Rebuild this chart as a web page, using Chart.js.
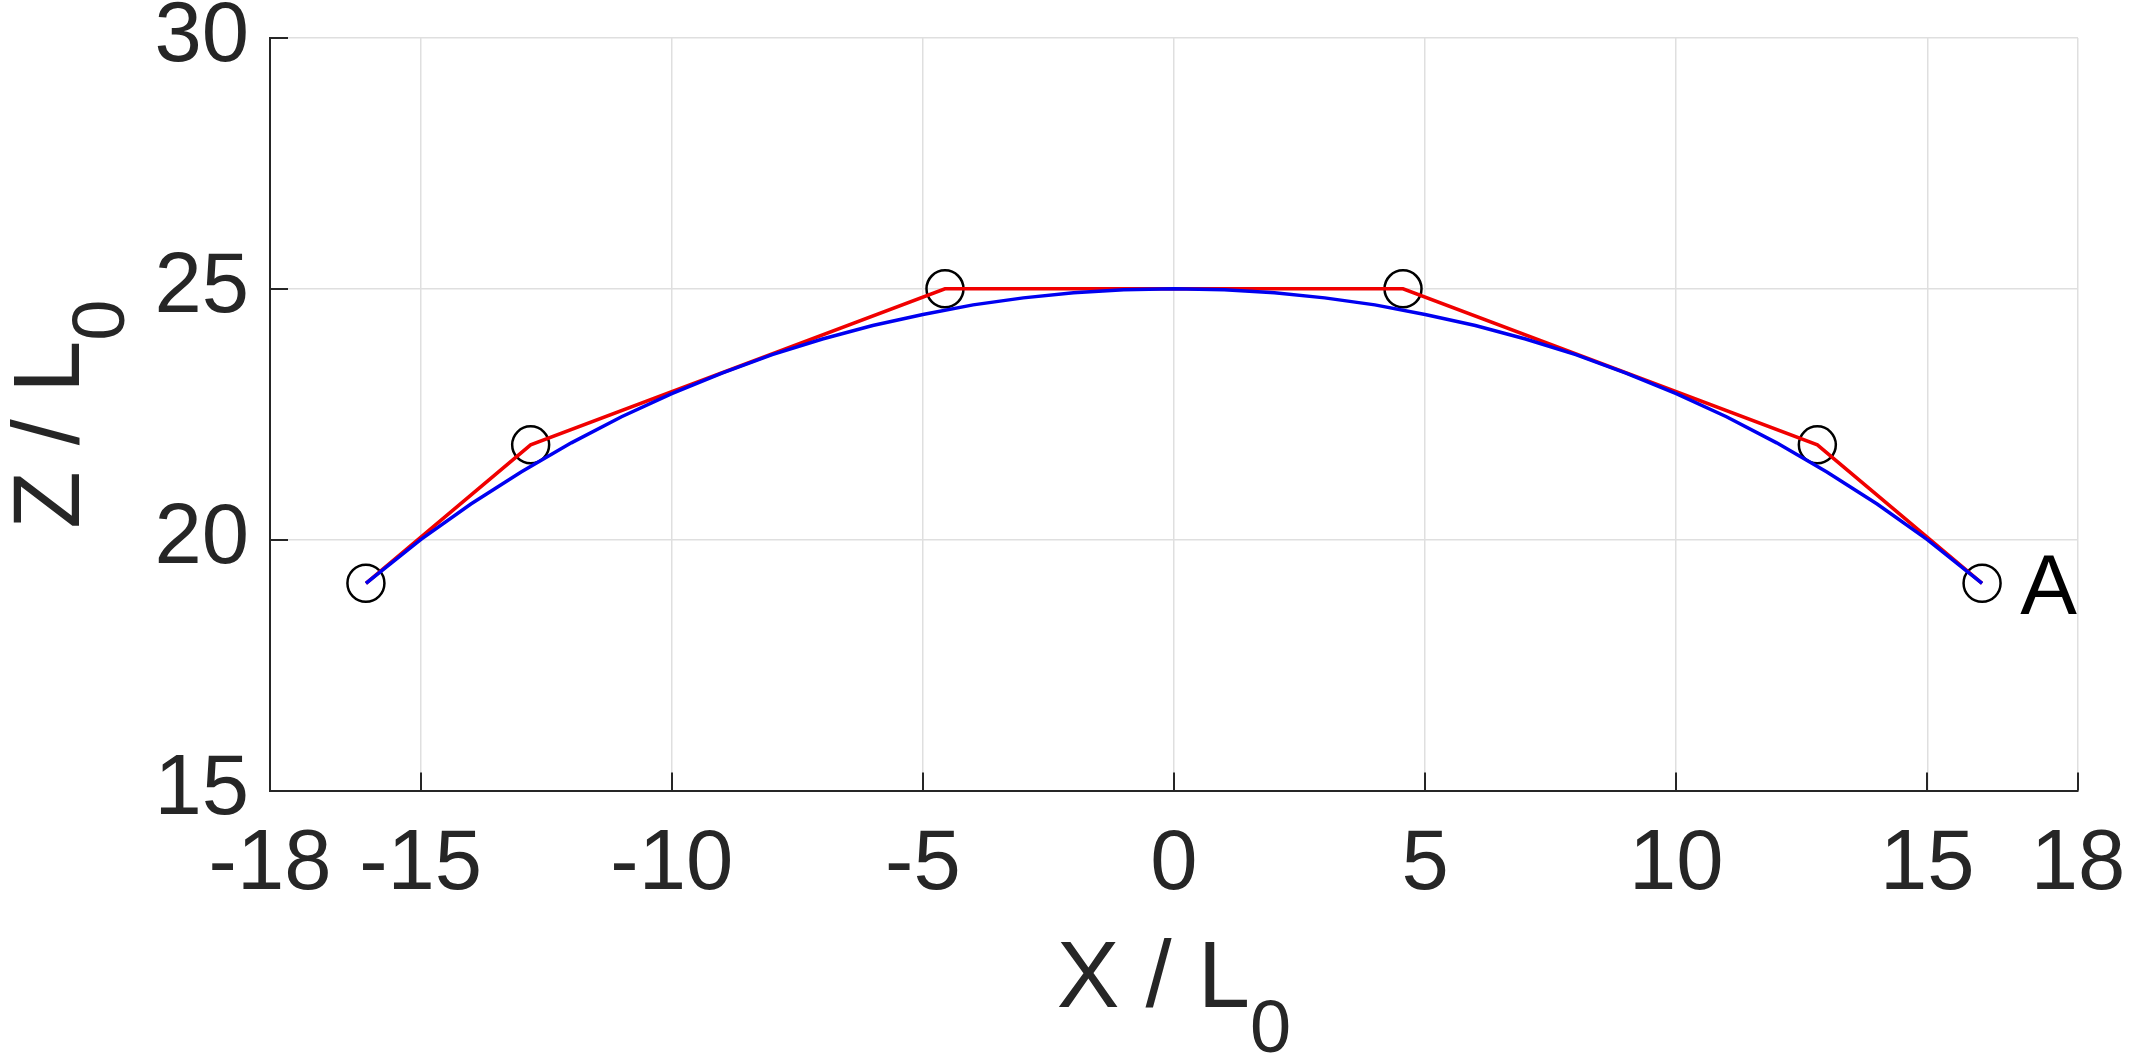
<!DOCTYPE html>
<html>
<head>
<meta charset="utf-8">
<script src="https://cdn.jsdelivr.net/npm/chart.js@4/dist/chart.umd.min.js"></script>
<style>
  html, body { margin: 0; padding: 0; background: #fff; }
  canvas { display: block; }
</style>
</head>
<body>
<canvas id="c" width="2137" height="1063"></canvas>
<script>
// ---- data ----
const xTicks = [-18, -15, -10, -5, 0, 5, 10, 15, 18];
const zTicks = [15, 20, 25, 30];

// node positions (black circles, red polyline)
const nodeX = [-16.09, -12.81, -4.56, 4.56, 12.81, 16.09];
const nodeZ = [19.13, 21.89, 25.0, 25.0, 21.89, 19.13];

// smooth blue curve
const curveX = [-16.09, -15, -14, -13, -12, -11, -10, -9, -8, -7, -6, -5, -4, -3, -2, -1, 0,
                1, 2, 3, 4, 5, 6, 7, 8, 9, 10, 11, 12, 13, 14, 15, 16.09];
const curveZ = [19.13, 20.00, 20.71, 21.35, 21.93, 22.45, 22.91, 23.32, 23.69, 24.00, 24.27, 24.49, 24.68, 24.82, 24.92, 24.98, 25.00,
                24.98, 24.92, 24.82, 24.68, 24.49, 24.27, 24.00, 23.69, 23.32, 22.91, 22.45, 21.93, 21.35, 20.71, 20.00, 19.13];

const pointLabel = 'A';
const pointLabelX = 16.85;
const pointLabelZ = 19.13;

const xTitleMain = 'X / L';
const zTitleMain = 'Z / L';
const titleSub = '0';

// ---- styles ----
const FONT = '"Liberation Sans", Arial, Helvetica, sans-serif';
const TEXT = '#262626';
const GRID = '#dfdfdf';

const toPts = (xs, ys) => xs.map((x, i) => ({ x: x, y: ys[i] }));

const decorPlugin = {
  id: 'decor',
  afterDraw(chart) {
    const ctx = chart.ctx;
    const xs = chart.scales.x, ys = chart.scales.y;
    const area = chart.chartArea;
    ctx.save();
    // inward tick marks
    ctx.strokeStyle = TEXT;
    ctx.lineWidth = 2;
    ctx.beginPath();
    xTicks.forEach(v => {
      const p = Math.round(xs.getPixelForValue(v));
      ctx.moveTo(p, area.bottom);
      ctx.lineTo(p, area.bottom - 18);
    });
    zTicks.forEach(v => {
      const p = Math.round(ys.getPixelForValue(v));
      ctx.moveTo(area.left, p);
      ctx.lineTo(area.left + 18, p);
    });
    ctx.stroke();

    // point label "A"
    ctx.fillStyle = '#000';
    ctx.font = '85px ' + FONT;
    ctx.textAlign = 'left';
    ctx.textBaseline = 'alphabetic';
    ctx.fillText(pointLabel, xs.getPixelForValue(pointLabelX), ys.getPixelForValue(pointLabelZ) + 0.358 * 85);

    // axis titles with subscript
    ctx.fillStyle = TEXT;
    const mainF = '94px ' + FONT, subF = '74px ' + FONT;
    ctx.font = mainF; const wm = ctx.measureText(xTitleMain).width;
    ctx.font = subF; const ws = ctx.measureText(titleSub).width;
    const total = wm + ws;
    const cx = (area.left + area.right) / 2;
    const bx = area.bottom + 216.5;
    ctx.font = mainF;
    ctx.fillText(xTitleMain, cx - total / 2, bx);
    ctx.font = subF;
    ctx.fillText(titleSub, cx - total / 2 + wm, bx + 45);

    // Z title rotated
    ctx.font = mainF; const wmz = ctx.measureText(zTitleMain).width;
    const totalz = wmz + ws;
    const cy = (area.top + area.bottom) / 2;
    ctx.translate(area.left - 191.5, cy);
    ctx.rotate(-Math.PI / 2);
    ctx.fillText(zTitleMain, -totalz / 2, 0);
    ctx.font = subF;
    ctx.fillText(titleSub, -totalz / 2 + wmz, 45);
    ctx.restore();
  }
};

const chart = new Chart(document.getElementById('c'), {
  type: 'scatter',
  data: {
    datasets: [
      {
        label: 'curve',
        data: toPts(curveX, curveZ),
        showLine: true,
        borderColor: '#0000f0',
        borderWidth: 3.5,
        pointRadius: 0,
        fill: false,
        order: 0
      },
      {
        label: 'polyline',
        data: toPts(nodeX, nodeZ),
        showLine: true,
        borderColor: '#f00000',
        borderWidth: 3.5,
        pointRadius: 0,
        fill: false,
        order: 1
      },
      {
        label: 'nodes',
        data: toPts(nodeX, nodeZ),
        showLine: false,
        pointRadius: 18.5,
        pointBorderWidth: 2.5,
        pointBorderColor: '#000000',
        pointBackgroundColor: 'rgba(0,0,0,0)',
        order: 2
      }
    ]
  },
  options: {
    responsive: false,
    devicePixelRatio: 1,
    animation: false,
    events: [],
    layout: { padding: { top: 38, right: 59, left: 0, bottom: 0 } },
    plugins: { legend: { display: false }, tooltip: { enabled: false } },
    scales: {
      x: {
        type: 'linear',
        min: -18, max: 18,
        afterBuildTicks: s => { s.ticks = xTicks.map(v => ({ value: v })); },
        afterFit: s => { s.height = 272.5; s.paddingLeft = 0; s.paddingRight = 0; s.paddingTop = 0; s.paddingBottom = 0; },
        grid: { color: GRID, lineWidth: 1.5, drawTicks: false },
        border: { display: true, color: TEXT, width: 2 },
        ticks: {
          font: { family: FONT, size: 85, lineHeight: 1.2 },
          color: TEXT,
          padding: 24,
          maxRotation: 0,
          autoSkip: false,
          callback: v => String(v)
        }
      },
      y: {
        type: 'linear',
        min: 15, max: 30,
        afterBuildTicks: s => { s.ticks = zTicks.map(v => ({ value: v })); },
        afterFit: s => { s.width = 270; s.paddingLeft = 0; s.paddingRight = 0; s.paddingTop = 0; s.paddingBottom = 0; },
        grid: { color: GRID, lineWidth: 1.5, drawTicks: false },
        border: { display: true, color: TEXT, width: 2 },
        ticks: {
          font: { family: FONT, size: 85, lineHeight: 1.2 },
          color: TEXT,
          padding: 21,
          autoSkip: false,
          callback: v => String(v)
        }
      }
    }
  },
  plugins: [decorPlugin]
});
</script>
</body>
</html>
